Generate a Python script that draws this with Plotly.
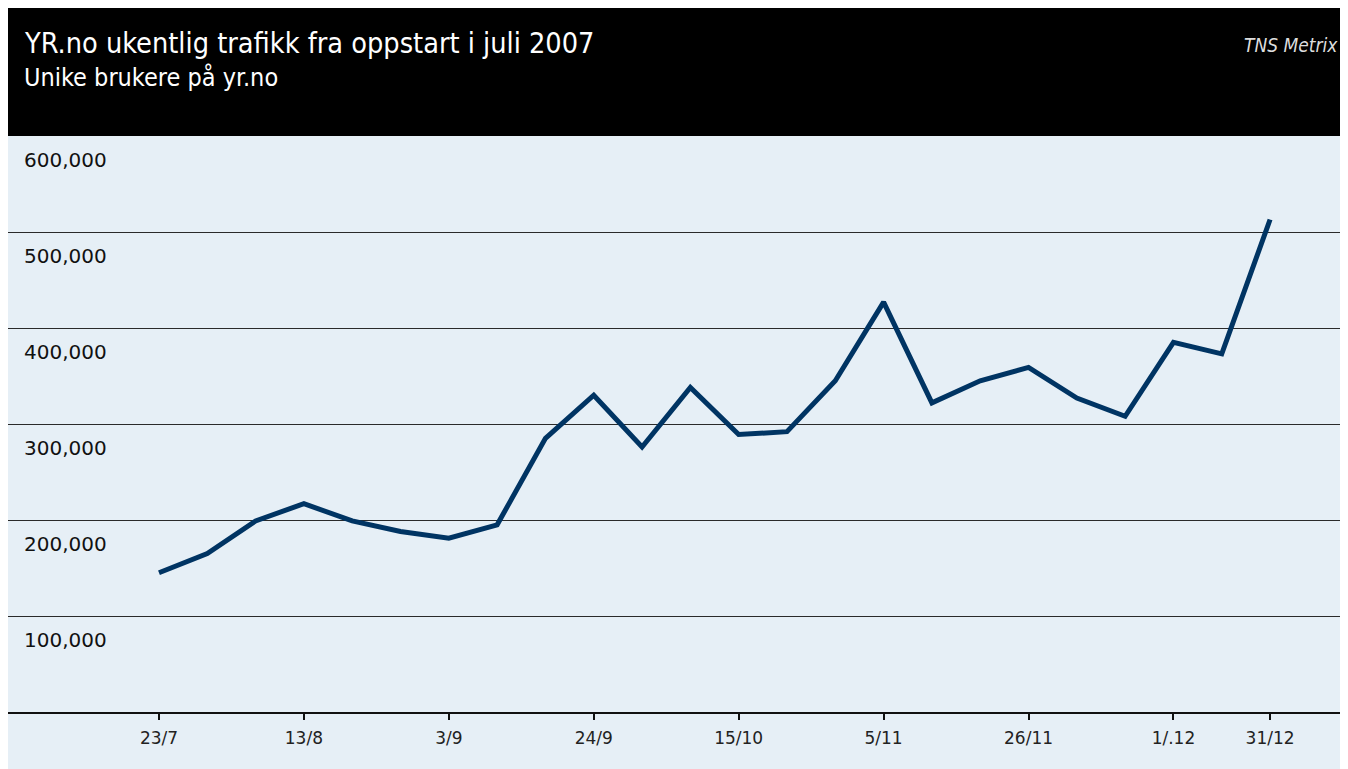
import plotly.graph_objects as go

# Weekly unique users on yr.no (weeks starting Monday)
weeks = [
    "2007-07-23", "2007-07-30", "2007-08-06", "2007-08-13", "2007-08-20", "2007-08-27",
    "2007-09-03", "2007-09-10", "2007-09-17", "2007-09-24", "2007-10-01", "2007-10-08",
    "2007-10-15", "2007-10-22", "2007-10-29", "2007-11-05", "2007-11-12", "2007-11-19",
    "2007-11-26", "2007-12-03", "2007-12-10", "2007-12-17", "2007-12-24", "2007-12-31",
]
users = [
    145000, 165000, 199000, 217000, 199000, 188000,
    181000, 195000, 285000, 330000, 276000, 338000,
    289000, 292000, 345000, 427000, 322000, 345000,
    359000, 327000, 308000, 385000, 373000, 513000,
]

tick_weeks = ["2007-07-23", "2007-08-13", "2007-09-03", "2007-09-24", "2007-10-15",
              "2007-11-05", "2007-11-26", "2007-12-17", "2007-12-31"]
tick_text = ["23/7", "13/8", "3/9", "24/9", "15/10", "5/11", "26/11", "1/.12", "31/12"]

y_ticks = [100000, 200000, 300000, 400000, 500000, 600000]

LINE = "#003463"
BG = "#e6eff6"
HEAD_FONT = "DejaVu Sans Condensed, Lato, sans-serif"

fig = go.Figure()
fig.add_trace(go.Scatter(x=weeks, y=users, mode="lines",
                         line=dict(color=LINE, width=5), hoverinfo="x+y"))

# black header band above the plot
shapes = [
    dict(type="rect", xref="paper", yref="paper", x0=0, x1=1.0, y0=1.0, y1=1.23,
         fillcolor="black", line_width=0, layer="below"),
]

annotations = [
    dict(text="YR.no ukentlig trafikk fra oppstart i juli 2007", xref="paper", yref="paper",
         x=0.0105, y=1.1615, xanchor="left", yanchor="middle", showarrow=False,
         font=dict(family=HEAD_FONT, size=28.6, color="white")),
    dict(text="Unike brukere på yr.no", xref="paper", yref="paper",
         x=0.0105, y=1.1007, xanchor="left", yanchor="middle", showarrow=False,
         font=dict(family=HEAD_FONT, size=25, color="white", weight=300)),
    dict(text="<i>TNS Metrix</i>", xref="paper", yref="paper",
         x=0.994, y=1.158, xanchor="right", yanchor="middle", showarrow=False,
         font=dict(family=HEAD_FONT, size=19, color="#dddddd", weight=300)),
]
for v in y_ticks:
    annotations.append(dict(text=f"{v:,}", xref="paper", yref="y", x=0.0105, y=v,
                            xanchor="left", yanchor="middle", yshift=-24, showarrow=False,
                            font=dict(family="DejaVu Sans", size=20, color="#111111")))

fig.update_layout(
    width=1340, height=761,
    margin=dict(l=0, r=0, t=128, b=57),
    paper_bgcolor=BG, plot_bgcolor=BG,
    showlegend=False,
    shapes=shapes,
    annotations=annotations,
    xaxis=dict(
        type="date",
        range=["2007-07-01 03:00", "2008-01-11 07:00"],
        tickvals=tick_weeks, ticktext=tick_text,
        ticks="outside", ticklen=6, tickwidth=2, tickcolor="#111111",
        ticklabelstandoff=4,
        showline=True, linecolor="#111111", linewidth=2,
        showgrid=False, zeroline=False,
        tickfont=dict(family="DejaVu Sans", size=17, color="#222222"),
    ),
    yaxis=dict(
        range=[0, 600000],
        tickvals=y_ticks, showticklabels=False,
        showgrid=True, gridcolor="#2a2a2a", gridwidth=1,
        zeroline=False, showline=False,
    ),
)

fig.write_html("out.html")
